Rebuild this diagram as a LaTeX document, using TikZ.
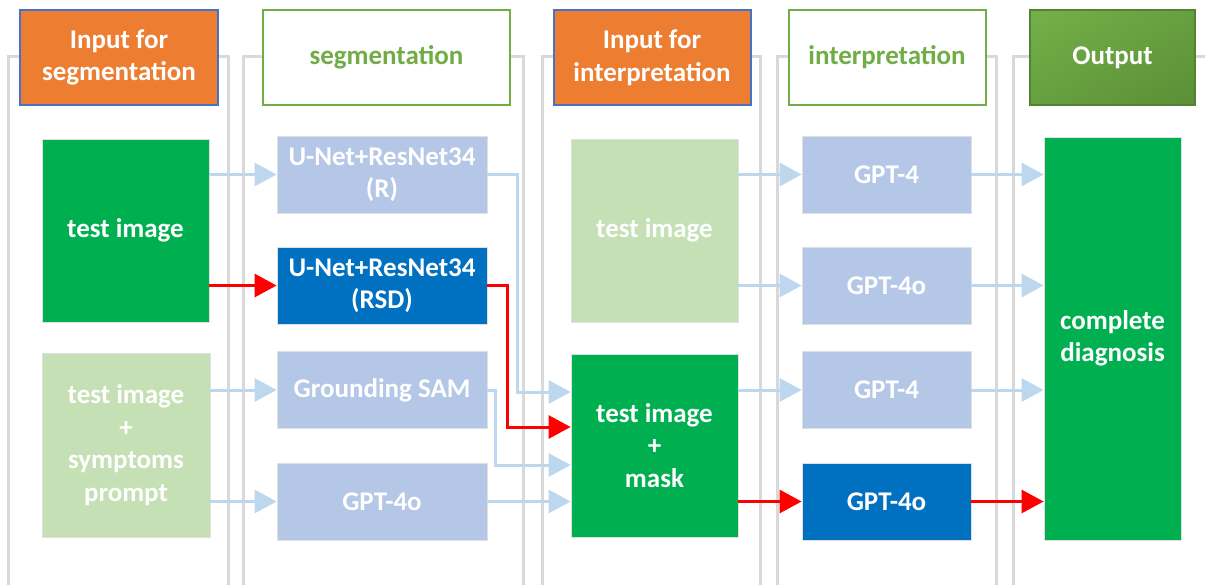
\documentclass[tikz,border=0pt]{standalone}
\usepackage{fontspec}
\setmainfont{Carlito}
\usetikzlibrary{arrows.meta,shadings}
\definecolor{frameg}{HTML}{D9D9D9}
\definecolor{orng}{HTML}{ED7D31}
\definecolor{hblue}{HTML}{4472C4}
\definecolor{hgreen}{HTML}{70AD47}
\definecolor{outA}{HTML}{74B04A}
\definecolor{outM}{HTML}{67A03F}
\definecolor{outB}{HTML}{5A8F36}
\definecolor{outBorder}{HTML}{548235}
\definecolor{bgreen}{HTML}{00B050}
\definecolor{pgreen}{HTML}{C5E0B4}
\definecolor{lblue}{HTML}{B4C7E7}
\definecolor{dblue}{HTML}{0070C0}
\definecolor{arrlb}{HTML}{BDD7EE}
\definecolor{arrred}{HTML}{FF0000}
\tikzset{
  txt/.style={font=\fontsize{27}{32.5}\selectfont\bfseries, align=center, inner sep=0pt, text=white},
  hdrorange/.style={txt, fill=orng, draw=hblue, line width=2pt, minimum height=95pt},
  hdrwhite/.style={txt, fill=white, draw=hgreen, line width=2pt, minimum height=95pt, text=hgreen},
  hdroutput/.style={txt, draw=outBorder, line width=2pt, minimum height=95pt, upper left=outA, upper right=outM, lower left=outM, lower right=outB},
  bodybox/.style={txt, draw=black!12, line width=0.8pt},
  colframe/.style={draw=frameg, line width=3pt},
  lbarrow/.style={draw=arrlb, line width=3pt, -{Triangle[length=22pt,width=23pt]}},
  redarrow/.style={draw=arrred, line width=3pt, -{Triangle[length=22pt,width=23pt]}},
}
\begin{document}
\begin{tikzpicture}[x=1pt,y=-1pt]
\useasboundingbox (0,0) rectangle (1205,584);
\clip (0,0) rectangle (1205,584);
% column frames
\draw[colframe] (8,600) -- (8,56) -- (228,56) -- (228,600);
\draw[colframe] (243,600) -- (243,56) -- (523,56) -- (523,600);
\draw[colframe] (542,600) -- (542,56) -- (760,56) -- (760,600);
\draw[colframe] (777,600) -- (777,56) -- (996,56) -- (996,600);
\draw[colframe] (1013,600) -- (1013,56) -- (1220,56) -- (1220,600);
% headers
\node[hdrorange, minimum width=198pt] (h1) at (119,57.5) {Input for\\segmentation};
\node[hdrwhite, minimum width=247pt] (h2) at (386.5,57.5) {segmentation};
\node[hdrorange, minimum width=197pt] (h3) at (652,57.5) {Input for\\interpretation};
\node[hdrwhite, minimum width=197pt] (h4) at (887,57.5) {interpretation};
\node[hdroutput, minimum width=165pt] (h5) at (1112.5,57.5) {Output};
% column 1
\node[bodybox, fill=bgreen, minimum width=167pt, minimum height=183pt] (a1) at (125.5,230.5) {test image};
\node[bodybox, fill=pgreen, minimum width=168pt, minimum height=184pt] (a2) at (126,445) {test image\\+\\symptoms\\prompt};
% column 2
\node[bodybox, fill=lblue, minimum width=210pt, minimum height=77pt] (b1) at (382,174.5) {U-Net+ResNet34\\(R)};
\node[bodybox, fill=dblue, minimum width=210pt, minimum height=77pt] (b2) at (382,285.5) {U-Net+ResNet34\\(RSD)};
\node[bodybox, fill=lblue, minimum width=210pt, minimum height=77pt] (b3) at (382,390) {Grounding SAM};
\node[bodybox, fill=lblue, minimum width=210pt, minimum height=77pt] (b4) at (382,501.5) {GPT-4o};
% column 3
\node[bodybox, fill=pgreen, minimum width=167pt, minimum height=183pt] (c1) at (654.5,230.5) {test image};
\node[bodybox, fill=bgreen, minimum width=167pt, minimum height=183pt] (c2) at (654.5,445.5) {test image\\+\\mask};
% column 4
\node[bodybox, fill=lblue, minimum width=169pt, minimum height=77pt] (d1) at (886.5,174.5) {GPT-4};
\node[bodybox, fill=lblue, minimum width=169pt, minimum height=77pt] (d2) at (886.5,285.5) {GPT-4o};
\node[bodybox, fill=lblue, minimum width=169pt, minimum height=77pt] (d3) at (886.5,390) {GPT-4};
\node[bodybox, fill=dblue, minimum width=169pt, minimum height=77pt] (d4) at (886.5,501.5) {GPT-4o};
% column 5
\node[bodybox, fill=bgreen, minimum width=137pt, minimum height=403pt] (e1) at (1112.5,338.5) {complete\\diagnosis};
% helper coordinates
\coordinate (in1) at (571,392);
\coordinate (in2) at (571,427);
\coordinate (in3) at (571,465);
\coordinate (in4) at (571,503);
\coordinate (k1) at (517,0);
\coordinate (k2) at (507,0);
\coordinate (k3) at (495,0);
% connectors col1 -> col2
\draw[lbarrow] (a1.east |- b1.west) -- (b1.west);
\draw[redarrow] (a1.east |- b2.west) -- (b2.west);
\draw[lbarrow] (a2.east |- b3.west) -- (b3.west);
\draw[lbarrow] (a2.east |- b4.west) -- (b4.west);
% col2 -> col3
\draw[lbarrow] (b1.east) -- (k1 |- b1.east) -- (k1 |- in1) -- (c2.west |- in1);
\draw[redarrow] (b2.east) -- (k2 |- b2.east) -- (k2 |- in2) -- (c2.west |- in2);
\draw[lbarrow] (b3.east) -- (k3 |- b3.east) -- (k3 |- in3) -- (c2.west |- in3);
\draw[lbarrow] (b4.east) -- (c2.west |- b4.east);
% col3 -> col4
\draw[lbarrow] (c1.east |- d1.west) -- (d1.west);
\draw[lbarrow] (c1.east |- d2.west) -- (d2.west);
\draw[lbarrow] (c2.east |- d3.west) -- (d3.west);
\draw[redarrow] (c2.east |- d4.west) -- (d4.west);
% col4 -> col5
\draw[lbarrow] (d1.east) -- (e1.west |- d1.east);
\draw[lbarrow] (d2.east) -- (e1.west |- d2.east);
\draw[lbarrow] (d3.east) -- (e1.west |- d3.east);
\draw[redarrow] (d4.east) -- (e1.west |- d4.east);
\end{tikzpicture}
\end{document}
